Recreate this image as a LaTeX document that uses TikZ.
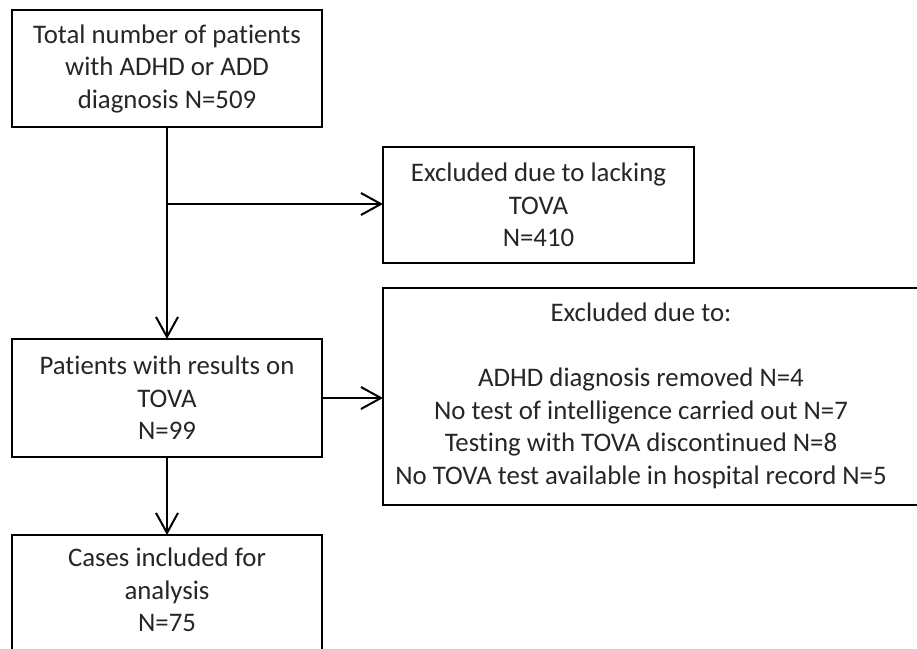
\documentclass[tikz,border=0pt]{standalone}
\usepackage{fontspec}
\setmainfont{Carlito}[Ligatures=CommonOff]
\usetikzlibrary{arrows.meta}
\begin{document}
\begin{tikzpicture}[x=1pt,y=-1pt,
  box/.style={draw=black,line width=2pt,rectangle,inner sep=0pt,outer sep=0pt,
    align=center,text=black!85,font=\fontsize{26.8}{32.5}\selectfont},
  txt/.style={align=center,text=black!85,inner sep=0pt,font=\fontsize{26.8}{32.5}\selectfont},
  arr/.style={line width=2pt,-{Straight Barb[length=20pt,width=22pt,line width=2pt]}},
  conn/.style={line width=2pt}]
\useasboundingbox (0,0) rectangle (917,648);
\clip (0,0) rectangle (917,648);
\fill[white] (0,0) rectangle (917,648);
\node[box,minimum width=310pt,minimum height=117pt] (b1) at (167,68.5)
  {Total number of patients\\with ADHD or ADD\\diagnosis N=509};
\node[box,minimum width=311pt,minimum height=116pt] (b2) at (538.5,205)
  {Excluded due to lacking\\TOVA\\N=410};
\node[box,minimum width=310pt,minimum height=118pt] (b3) at (167,398)
  {Patients with results on\\TOVA\\N=99};
\node[box,minimum width=536pt,minimum height=217pt] (b4) at (651,396.5) {};
\node[txt] (b4t) at (641,396)
  {Excluded due to:\\[32.5pt]ADHD diagnosis removed N=4\\No test of intelligence carried out N=7\\Testing with TOVA discontinued N=8\\No TOVA test available in hospital record N=5};
\node[box,minimum width=310pt,minimum height=125pt] (b5) at (167,597.5) {};
\node[txt] (b5t) at (167,590) {Cases included for\\analysis\\N=75};
\coordinate (br) at (167,204);
\draw[arr] (b1.south) -- (b3.north);
\draw[arr] (br) -- (br -| b2.west);
\draw[arr] (b3.east) -- (b3.east -| b4.west);
\draw[arr] (b3.south) -- (b5.north);
\end{tikzpicture}
\end{document}
